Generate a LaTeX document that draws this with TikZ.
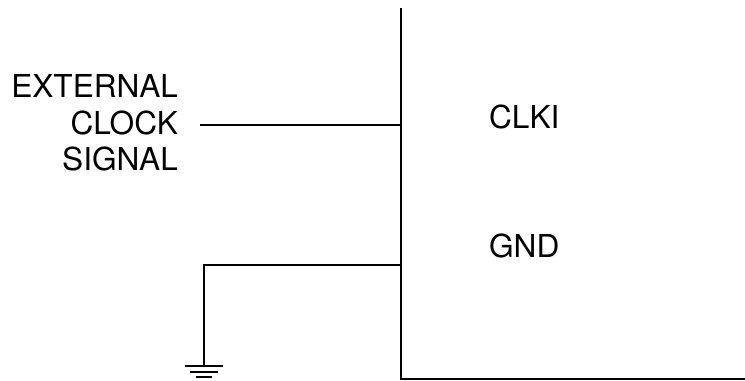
\documentclass[tikz,border=0pt]{standalone}
\usepackage{fontspec}
\setmainfont{TeX Gyre Heros}
\usetikzlibrary{positioning}

\begin{document}
\begin{tikzpicture}[x=0.02cm, y=-0.02cm, line width=1.25pt,
    pinlabel/.style={anchor=west, inner sep=0pt, font=\fontsize{18pt}{20.8pt}\selectfont}]
    \useasboundingbox (0,0) rectangle (745,381);
    % Корпус
    \coordinate (top) at (401,8);
    \coordinate (corner) at (401,379);
    \coordinate (right) at (746,379);
    \draw (top) -- (corner) -- (right);
    % Выводы
    \node[pinlabel] (clki) at (488,117) {CLKI};
    \node[pinlabel] (gnd) at (488,246) {GND};
    \coordinate (clkpin) at (401,125);
    \coordinate (gndpin) at (401,265);
    % Внешний сигнал
    \node[inner sep=0pt, anchor=east, align=right, font=\fontsize{18pt}{20.8pt}\selectfont] (ext) at (179,123) {EXTERNAL\\CLOCK\\SIGNAL};
    \coordinate (clkin) at (200,125);
    \draw (clkin) -- (clkpin);
    % Земля
    \coordinate (gndbend) at (204,265);
    \coordinate (gnd1) at (204,366);
    \draw (gndpin) -- (gndbend) -- (gnd1);
    \foreach \y/\w in {366/19, 372/14, 377/8} {
      \draw (204-\w,\y) -- (204+\w,\y);
    }
\end{tikzpicture}
\end{document}
